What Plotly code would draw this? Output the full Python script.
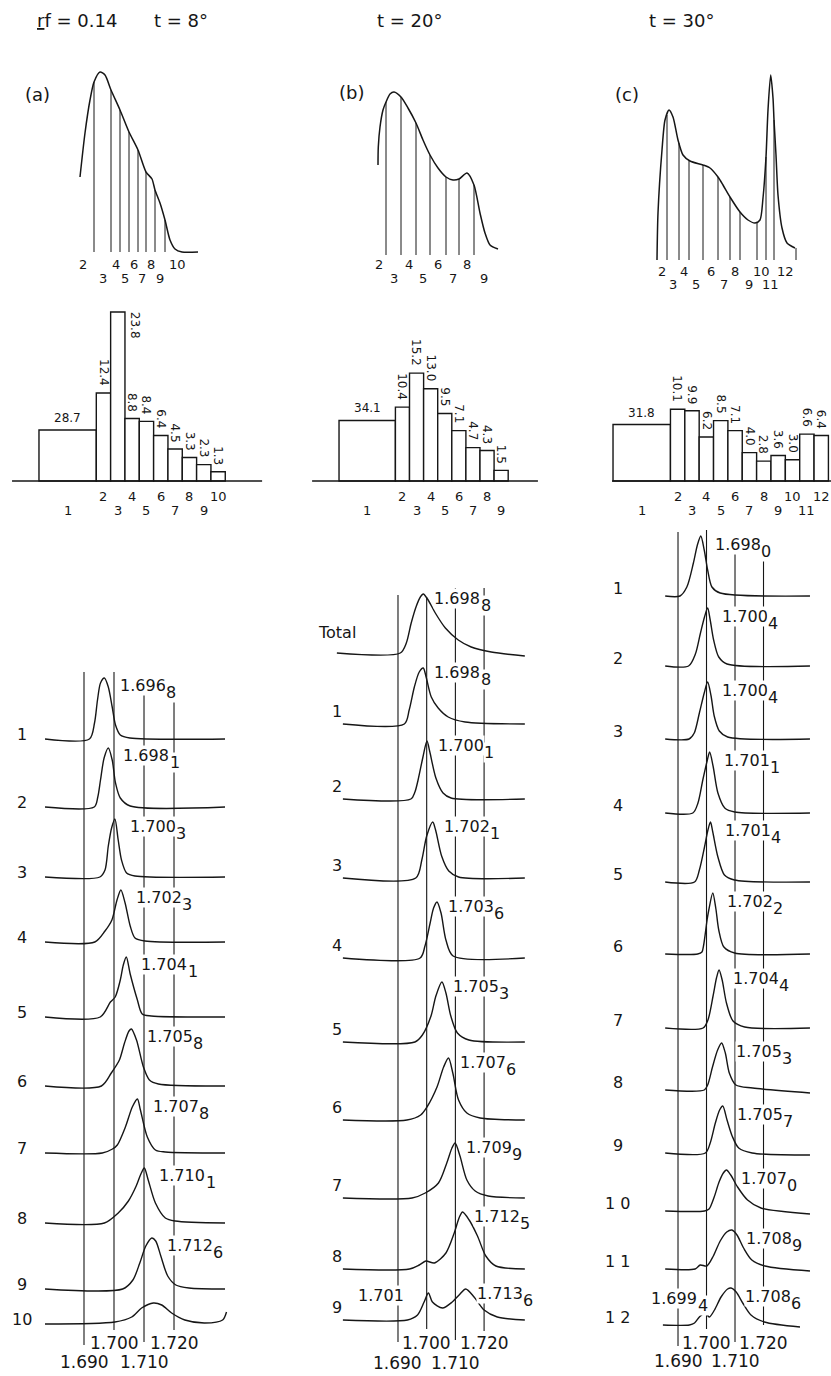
import numpy as np
import plotly.graph_objects as go

# ======================= DATA =======================
# --- top row: absorbance profiles of the effluent (position units, A) ---
A_POS = [80, 85, 90, 94, 100, 105, 111, 120, 129, 138, 146, 152, 155, 160, 165, 170, 175, 182, 198]
A_ABS = [0.75, 1.19, 1.52, 1.70, 1.80, 1.77, 1.62, 1.42, 1.20, 1.02, 0.80, 0.73, 0.62, 0.49, 0.32, 0.12, 0.03, 0.00, 0.00]
A_CUTS = [94, 111, 120, 129, 138, 146, 155, 165]
A_TOP_FRACS = ["2", "3", "4", "5", "6", "7", "8", "9", "10"]

B_POS = [101, 101.3, 103, 106, 109, 113, 117, 124, 131, 139, 146, 153, 161, 169, 176, 182, 190, 197, 203, 208, 213, 221]
B_ABS = [0.90, 1.08, 1.28, 1.45, 1.53, 1.61, 1.63, 1.58, 1.47, 1.32, 1.15, 1.00, 0.87, 0.78, 0.75, 0.76, 0.82, 0.70, 0.42, 0.22, 0.10, 0.06]
B_CUTS = [109, 124, 139, 153, 169, 182, 197]
B_TOP_FRACS = ["2", "3", "4", "5", "6", "7", "8", "9"]

C_POS = [103, 104, 108, 111, 115, 119, 124, 129, 136, 149, 156, 164, 169, 176, 186, 194, 201, 206, 209, 212, 214, 216.7, 219, 220, 222, 224, 228, 233, 241]
C_ABS = [0.00, 0.47, 1.10, 1.40, 1.50, 1.43, 1.20, 1.05, 0.99, 0.95, 0.92, 0.83, 0.75, 0.63, 0.48, 0.40, 0.37, 0.40, 0.62, 1.03, 1.50, 1.85, 1.62, 1.40, 1.05, 0.65, 0.32, 0.17, 0.12]
C_CUTS = [103, 113, 125, 135, 149, 164, 176, 186, 203, 212, 220, 242]
C_TOP_FRACS = ["2", "3", "4", "5", "6", "7", "8", "9", "10", "11", "12"]

# --- middle row: percentage of DNA per fraction ---
A_PCT = [28.7, 12.4, 23.8, 8.8, 8.4, 6.4, 4.5, 3.3, 2.3, 1.3]
B_PCT = [34.1, 10.4, 15.2, 13.0, 9.5, 7.1, 4.7, 4.3, 1.5]
C_PCT = [31.8, 10.1, 9.9, 6.2, 8.5, 7.1, 4.0, 2.8, 3.6, 3.0, 6.6, 6.4]
FRAC1_SPAN = 4  # fraction 1 pools four tube widths

# --- bottom row: CsCl density profiles (density g/cm3, absorbance) ---
A_ROWS = ["1", "2", "3", "4", "5", "6", "7", "8", "9", "10"]
A_PEAKS = ["1.6968", "1.6981", "1.7003", "1.7023", "1.7041", "1.7058", "1.7078", "1.7101", "1.7126", None]
A_DENS = [
    [1.6770, 1.6918, 1.6935, 1.6945, 1.6955, 1.6968, 1.6981, 1.6994, 1.7005, 1.7021, 1.7053, 1.7370],
    [1.6770, 1.6934, 1.6946, 1.6955, 1.6967, 1.6981, 1.6994, 1.7005, 1.7021, 1.7054, 1.7370],
    [1.6770, 1.6953, 1.6970, 1.6981, 1.6992, 1.7003, 1.7014, 1.7025, 1.7042, 1.7070, 1.7370],
    [1.6770, 1.6936, 1.6970, 1.6993, 1.7010, 1.7023, 1.7037, 1.7054, 1.7070, 1.7103, 1.7370],
    [1.6770, 1.6954, 1.6988, 1.7004, 1.7021, 1.7031, 1.7041, 1.7054, 1.7078, 1.7094, 1.7124, 1.7370],
    [1.6770, 1.6958, 1.6991, 1.7018, 1.7035, 1.7050, 1.7058, 1.7075, 1.7098, 1.7118, 1.7148, 1.7370],
    [1.6770, 1.6961, 1.6995, 1.7011, 1.7038, 1.7061, 1.7078, 1.7088, 1.7111, 1.7138, 1.7171, 1.7370],
    [1.6770, 1.6968, 1.7014, 1.7048, 1.7074, 1.7091, 1.7101, 1.7114, 1.7138, 1.7171, 1.7204, 1.7370],
    [1.6770, 1.7029, 1.7063, 1.7086, 1.7106, 1.7126, 1.7139, 1.7156, 1.7179, 1.7206, 1.7250, 1.7370],
    [1.6770, 1.7003, 1.7059, 1.7092, 1.7131, 1.7159, 1.7192, 1.7236, 1.7303, 1.7362, 1.7375],
]
A_ABSB = [
    [0, 0, .16, .39, .56, .61, .52, .32, .14, .04, .01, 0],
    [0, 0, .10, .27, .49, .59, .47, .24, .09, .01, 0],
    [0, 0, .07, .31, .49, .58, .37, .17, .04, .01, 0],
    [0, 0, .11, .22, .42, .52, .39, .16, .04, .01, 0],
    [0, 0, .15, .20, .37, .52, .60, .43, .17, .03, .01, 0],
    [0, 0, .13, .26, .43, .55, .57, .46, .19, .06, .02, 0],
    [0, 0, .04, .08, .26, .46, .54, .43, .16, .03, .01, 0],
    [0, 0, .10, .22, .37, .50, .55, .43, .20, .05, .02, 0],
    [0, 0, .09, .26, .43, .51, .48, .33, .13, .04, .01, 0],
    [0, .02, .07, .16, .21, .19, .11, .04, .01, .04, .12],
]

B_ROWS = ["Total", "1", "2", "3", "4", "5", "6", "7", "8", "9"]
B_PEAKS = ["1.6988", "1.6988", "1.7001", "1.7021", "1.7036", "1.7053", "1.7076", "1.7099", "1.7125", "1.7136"]
B_EXTRA_PEAK = "1.701"  # minor band of fraction 9
B_DENS = [
    [1.6687, 1.6908, 1.6929, 1.6946, 1.6964, 1.6978, 1.6988, 1.7005, 1.7030, 1.7065, 1.7110, 1.7155, 1.7225, 1.7342],
    [1.6708, 1.6922, 1.6939, 1.6957, 1.6974, 1.6988, 1.6998, 1.7016, 1.7040, 1.7075, 1.7134, 1.7342],
    [1.6708, 1.6945, 1.6959, 1.6970, 1.6987, 1.7001, 1.7011, 1.7032, 1.7057, 1.7085, 1.7342],
    [1.6708, 1.6962, 1.6983, 1.7000, 1.7021, 1.7031, 1.7052, 1.7077, 1.7111, 1.7342],
    [1.6708, 1.6977, 1.6994, 1.7012, 1.7024, 1.7036, 1.7050, 1.7067, 1.7092, 1.7342],
    [1.6708, 1.6959, 1.6985, 1.7015, 1.7032, 1.7053, 1.7067, 1.7084, 1.7107, 1.7147, 1.7342],
    [1.6708, 1.6931, 1.6979, 1.7001, 1.7036, 1.7059, 1.7076, 1.7091, 1.7111, 1.7140, 1.7186, 1.7342],
    [1.6708, 1.6949, 1.6995, 1.7041, 1.7070, 1.7088, 1.7099, 1.7116, 1.7140, 1.7169, 1.7214, 1.7342],
    [1.6708, 1.6940, 1.6974, 1.6997, 1.7027, 1.7067, 1.7096, 1.7114, 1.7125, 1.7148, 1.7177, 1.7206, 1.7241, 1.7342],
    [1.6708, 1.6933, 1.6968, 1.6991, 1.7006, 1.7020, 1.7055, 1.7089, 1.7113, 1.7136, 1.7165, 1.7200, 1.7246, 1.7342],
]
B_ABSB = [
    [0, 0, .10, .30, .47, .56, .59, .53, .40, .25, .13, .06, .01, -.03],
    [0, 0, .14, .37, .52, .56, .47, .27, .16, .07, .02, 0],
    [0, 0, .07, .19, .42, .58, .47, .21, .06, .01, 0],
    [0, 0, .18, .42, .56, .48, .22, .07, .01, 0],
    [0, 0, .12, .35, .50, .56, .45, .18, .02, 0],
    [0, 0, .07, .26, .46, .60, .49, .26, .09, .02, 0],
    [0, 0, .05, .13, .33, .53, .62, .47, .20, .07, .02, 0],
    [0, 0, .05, .15, .35, .50, .55, .42, .18, .07, .02, 0],
    [0, 0, .04, .08, .06, .16, .36, .52, .57, .49, .33, .13, .03, 0],
    [0, 0, .05, .18, .27, .18, .12, .18, .25, .31, .23, .10, .03, 0],
]

C_ROWS = ["1", "2", "3", "4", "5", "6", "7", "8", "9", "1 0", "1 1", "1 2"]
C_PEAKS = ["1.6980", "1.7004", "1.7004", "1.7011", "1.7014", "1.7022", "1.7044", "1.7053", "1.7057", "1.7070", "1.7089", "1.7086"]
C_EXTRA_PEAK = "1.6994"  # minor band of fraction 12
C_DENS = [
    [1.6855, 1.6907, 1.6931, 1.6954, 1.6968, 1.6980, 1.6992, 1.7004, 1.7019, 1.7048, 1.7363],
    [1.6855, 1.6937, 1.6961, 1.6978, 1.6993, 1.7004, 1.7013, 1.7025, 1.7043, 1.7072, 1.7363],
    [1.6855, 1.6939, 1.6957, 1.6975, 1.6992, 1.7004, 1.7016, 1.7027, 1.7045, 1.7074, 1.7363],
    [1.6855, 1.6952, 1.6970, 1.6987, 1.7003, 1.7011, 1.7023, 1.7040, 1.7064, 1.7099, 1.7363],
    [1.6855, 1.6958, 1.6975, 1.6993, 1.7005, 1.7014, 1.7022, 1.7040, 1.7063, 1.7098, 1.7363],
    [1.6855, 1.6969, 1.6984, 1.6990, 1.7002, 1.7008, 1.7022, 1.7033, 1.7043, 1.7061, 1.7099, 1.7363],
    [1.6855, 1.6988, 1.7005, 1.7023, 1.7035, 1.7044, 1.7055, 1.7070, 1.7093, 1.7134, 1.7363],
    [1.6855, 1.6992, 1.7004, 1.7021, 1.7039, 1.7053, 1.7066, 1.7080, 1.7103, 1.7162, 1.7363],
    [1.6855, 1.6996, 1.7013, 1.7031, 1.7046, 1.7057, 1.7072, 1.7090, 1.7113, 1.7160, 1.7363],
    [1.6855, 1.6993, 1.7009, 1.7027, 1.7044, 1.7059, 1.7070, 1.7085, 1.7109, 1.7144, 1.7191, 1.7363],
    [1.6855, 1.6960, 1.6978, 1.7001, 1.7024, 1.7048, 1.7071, 1.7089, 1.7107, 1.7130, 1.7159, 1.7205, 1.7363],
    [1.6847, 1.6940, 1.6958, 1.6975, 1.6994, 1.7010, 1.7028, 1.7051, 1.7074, 1.7086, 1.7104, 1.7127, 1.7156, 1.7203, 1.7328],
]
C_ABSB = [
    [0, 0, .09, .33, .51, .60, .46, .26, .09, .03, 0],
    [0, 0, .12, .32, .49, .58, .46, .26, .09, .02, 0],
    [0, 0, .06, .26, .46, .57, .43, .23, .08, .02, 0],
    [0, 0, .10, .33, .53, .61, .47, .20, .05, .01, 0],
    [0, 0, .12, .35, .52, .60, .50, .25, .07, .02, 0],
    [0, 0, .02, .09, .34, .44, .61, .45, .24, .07, .01, 0],
    [0, 0, .08, .32, .50, .58, .48, .25, .07, .01, 0],
    [0, 0, .05, .23, .40, .47, .37, .17, .05, .02, -.03],
    [0, 0, .10, .30, .43, .47, .33, .17, .05, 0, -.02],
    [0, 0, .02, .14, .29, .38, .41, .36, .24, .11, .03, -.03],
    [0, 0, .04, .03, .13, .28, .37, .39, .34, .21, .09, .03, -.02],
    [0, 0, .02, .08, .12, .08, .15, .28, .36, .37, .33, .22, .10, .03, -.02],
]

DENSITY_MARKS = [1.690, 1.700, 1.710, 1.720]

# ======================= LAYOUT HELPERS =======================
W, H = 831, 1376
FONT = "DejaVu Sans"
INK = "#161616"
COLS = [(0, 277), (277, 554), (554, 831)]

fig = go.Figure()
axes = {}
annots = []
shapes = []


def dom_x(p0, p1):
    return [p0 / W, p1 / W]


def dom_y(p0, p1):
    return [1 - p1 / H, 1 - p0 / H]


def add_axes(i, xdom, xr, ydom, yr):
    xs = "" if i == 1 else str(i)
    axes["xaxis" + xs] = dict(domain=xdom, range=xr, visible=False, fixedrange=True, anchor="y" + xs)
    axes["yaxis" + xs] = dict(domain=ydom, range=yr, visible=False, fixedrange=True, anchor="x" + xs)
    return "x" + xs, "y" + xs


def text(t, x, y, xref, yref, size, xa="center", ya="middle", angle=0, bg=None, yshift=0, xshift=0):
    d = dict(text=t, x=x, y=y, xref=xref, yref=yref, showarrow=False, xanchor=xa, yanchor=ya,
             textangle=angle, font=dict(family=FONT, size=size, color=INK), xshift=xshift, yshift=yshift)
    if bg:
        d.update(bgcolor=bg, borderpad=0)
    annots.append(d)


def paper_text(t, px, py, size, xa="center"):
    text(t, px / W, 1 - py / H, "paper", "paper", size, xa=xa)


def seg_trace(xs, ys, xr, yr, width=1.1):
    fig.add_trace(go.Scatter(x=xs, y=ys, mode="lines", xaxis=xr, yaxis=yr, hoverinfo="skip",
                             line=dict(color=INK, width=width), showlegend=False))


def text_width(s, size):
    # DejaVu Sans advance widths (em) for digits and the decimal point
    return sum(0.318 if ch == "." else 0.636 for ch in s) * size


LAB_SIZE = 16
SUB_DROP = -7


def density_label(s, x, y, xref, yref, anchor="left"):
    main, sub = s[:-1], s[-1]
    if anchor == "left":
        text(main, x, y, xref, yref, LAB_SIZE, xa="left", bg="white")
        text(sub, x, y, xref, yref, LAB_SIZE, xa="left", bg="white",
             xshift=text_width(main, LAB_SIZE) + 0.5, yshift=SUB_DROP)
    else:
        text(sub, x, y, xref, yref, LAB_SIZE, xa="right", bg="white", yshift=SUB_DROP)
        text(main, x, y, xref, yref, LAB_SIZE, xa="right", bg="white",
             xshift=-(text_width(sub, LAB_SIZE) + 0.5))


# ---------------- headers ----------------
paper_text("<u>r</u>f = 0.14", 35, 20, 18, xa="left")
paper_text("t = 8°", 152, 20, 18, xa="left")
paper_text("t = 20°", 375, 20, 18, xa="left")
paper_text("t = 30°", 647, 20, 18, xa="left")
paper_text("(a)", 37, 94, 18)
paper_text("(b)", 351, 93, 18)
paper_text("(c)", 627, 95, 18)

# ---------------- top profiles ----------------
TOP_BASE = [252, 255, 260]
TOP_LAB_Y = [(-0.12, -0.26), (-0.095, -0.235), (-0.11, -0.245)]
TOP_ENDS = [(11, 12), (7, 10), (None, None)]
tops = [(A_POS, A_ABS, A_CUTS, A_TOP_FRACS), (B_POS, B_ABS, B_CUTS, B_TOP_FRACS), (C_POS, C_ABS, C_CUTS, C_TOP_FRACS)]
for k, (pos, ab, cuts, fr) in enumerate(tops):
    base = TOP_BASE[k]
    xr, yr = add_axes(1 + k, dom_x(*COLS[k]), [0, 277], dom_y(40, 295), [(base - 295) / 100, (base - 40) / 100])
    fig.add_trace(go.Scatter(x=pos, y=ab, mode="lines", xaxis=xr, yaxis=yr, hoverinfo="skip", showlegend=False,
                             line=dict(color=INK, width=1.5, shape="spline", smoothing=0.7)))
    xs, ys = [], []
    for c in cuts:
        xs += [c, c, None]
        ys += [0, float(np.interp(c, pos, ab)), None]
    seg_trace(xs, ys, xr, yr, 1.0)
    mids = [(cuts[i] + cuts[i + 1]) / 2 for i in range(len(cuts) - 1)]
    lead, tail = TOP_ENDS[k]
    lx = ([cuts[0] - lead] if lead else []) + mids + ([cuts[-1] + tail] if tail else [])
    for lab, x in zip(fr, lx):
        yy = TOP_LAB_Y[k][0] if int(lab) % 2 == 0 else TOP_LAB_Y[k][1]
        text(lab, x, yy, xr, yr, 13)

# ---------------- histograms ----------------
PX_PER_PCT = 7.1
HIST_XR = [[-2.72, 16.61], [-4.40, 15.25], [-4.11, 15.18]]
HIST_AXIS = [(-1.88, 15.57), (-1.91, 14.11), (-0.07, 15.18)]
BESIDE = {0: {2}}  # label placed beside its bar
for k, pct in enumerate([A_PCT, B_PCT, C_PCT]):
    xr, yr = add_axes(4 + k, dom_x(*COLS[k]), HIST_XR[k], dom_y(290, 520),
                      [-(520 - 481) / PX_PER_PCT, (481 - 290) / PX_PER_PCT])
    n = len(pct)
    centers = [FRAC1_SPAN / 2] + [j + 2.5 for j in range(2, n + 1)]
    widths = [FRAC1_SPAN] + [1] * (n - 1)
    heights = [pct[0] / FRAC1_SPAN] + pct[1:]
    fig.add_trace(go.Bar(x=centers, y=heights, width=widths, xaxis=xr, yaxis=yr, hoverinfo="skip",
                         marker=dict(color="white", line=dict(color=INK, width=1.4)), showlegend=False))
    shapes.append(dict(type="line", xref=xr, yref=yr, x0=HIST_AXIS[k][0], x1=HIST_AXIS[k][1], y0=0, y1=0,
                       line=dict(color=INK, width=1.6)))
    for j, (c, h, v) in enumerate(zip(centers, heights, pct)):
        if j == 0:
            text(f"{v:.1f}", c, h, xr, yr, 12, ya="bottom", yshift=3)
        elif j in BESIDE.get(k, set()):
            text(f"{v:.1f}", c + 1.25, h, xr, yr, 12, ya="top", angle=90, yshift=2)
        else:
            text(f"{v:.1f}", c, h, xr, yr, 12, ya="bottom", angle=90, yshift=5)
        lab = str(j + 1)
        up = (j + 1) % 2 == 0
        yy = -(496 - 481) / PX_PER_PCT if up else -(510 - 481) / PX_PER_PCT
        text(lab, c, yy, xr, yr, 13)

# ---------------- density profiles ----------------
BOT_XR = [[1.6620, 1.75433], [1.64784, 1.74436], [1.64649, 1.74368]]
# baseline of each tracing, in absorbance units above the bottom of the panel
OFFS = [
    [6.37, 5.69, 4.99, 4.34, 3.59, 2.90, 2.23, 1.53, 0.87, 0.52],
    [7.23, 6.52, 5.77, 4.98, 4.18, 3.34, 2.56, 1.78, 1.07, 0.56],
    [7.80, 7.10, 6.37, 5.63, 4.94, 4.22, 3.48, 2.86, 2.23, 1.65, 1.07, 0.51],
]
ROW_X = [1.6693, 1.6687, 1.6689]
ROW_DY = [0.05, 0.13, 0.08]
LAB_DX = [0.0047, 0.0035, 0.0046]
LAB_DY = [-0.07, -0.04, -0.08]
# vertical reference lines: (top, bottom) per density mark
VLINES = [
    [(7.04, 0.31), (7.04, 0.46), (6.93, 0.34), (6.93, 0.46)],
    [(7.81, 0.34), (7.79, 0.47), (7.88, 0.36), (7.88, 0.45)],
    [(8.44, 0.30), (8.46, 0.47), (8.33, 0.34), (8.33, 0.51)],
]
AXLAB_Y = [(0.33, 0.14), (0.33, 0.13), (0.33, 0.15)]

panels = [(A_ROWS, A_PEAKS, A_DENS, A_ABSB), (B_ROWS, B_PEAKS, B_DENS, B_ABSB), (C_ROWS, C_PEAKS, C_DENS, C_ABSB)]
for k, (rows, peaks, dens, absb) in enumerate(panels):
    xr, yr = add_axes(7 + k, dom_x(*COLS[k]), BOT_XR[k], dom_y(520, 1376), [0, 8.56])
    for m, (top, bot) in zip(DENSITY_MARKS, VLINES[k]):
        seg_trace([m, m], [top, bot], xr, yr, 1.1)
    for i, (rl, pk, dx, ay) in enumerate(zip(rows, peaks, dens, absb)):
        off = OFFS[k][i]
        fig.add_trace(go.Scatter(x=dx, y=[off + v for v in ay], mode="lines", xaxis=xr, yaxis=yr,
                                 hoverinfo="skip", showlegend=False,
                                 line=dict(color=INK, width=1.4, shape="spline", smoothing=0.8)))
        text(rl, ROW_X[k], off + ROW_DY[k] + (0.08 if rl == "Total" else 0), xr, yr, 16)
        if pk:
            density_label(pk, float(pk) + LAB_DX[k], off + max(ay) + LAB_DY[k], xr, yr)
    for j, m in enumerate(DENSITY_MARKS):
        yy = AXLAB_Y[k][0] if j % 2 == 1 else AXLAB_Y[k][1]
        text(f"{m:.3f}", m, yy, xr, yr, 17)
    if k == 1:
        text(B_EXTRA_PEAK, 1.6924, OFFS[1][9] + 0.25, xr, yr, LAB_SIZE, xa="right", bg="white")
    if k == 2:
        density_label(C_EXTRA_PEAK, 1.7008, OFFS[2][11] + 0.27, xr, yr, anchor="right")

fig.update_layout(width=W, height=H, autosize=False, margin=dict(l=0, r=0, t=0, b=0),
                  paper_bgcolor="white", plot_bgcolor="white", showlegend=False, hovermode=False,
                  font=dict(family=FONT, color=INK), annotations=annots, shapes=shapes, **axes)
fig.write_html("out.html", config={"displayModeBar": False, "staticPlot": True},
               post_script="document.body.style.margin='0';document.body.style.overflow='hidden';")
